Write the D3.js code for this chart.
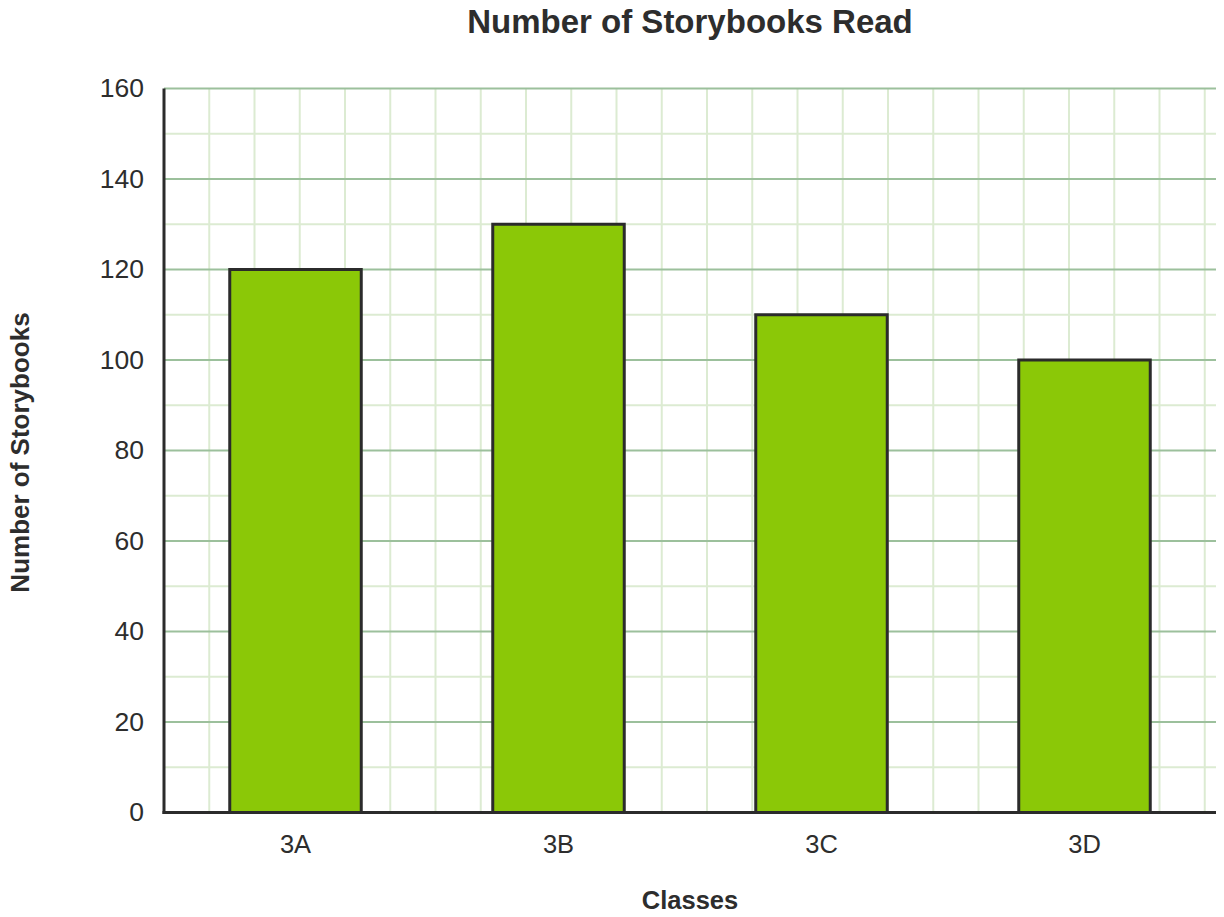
<!DOCTYPE html>
<html>
<head>
<meta charset="utf-8">
<script src="https://cdn.jsdelivr.net/npm/d3@7"></script>
<style>
  body { margin: 0; background: #fff; }
  text { font-family: "Liberation Sans", Arial, sans-serif; fill: #2d2d2d; }
</style>
</head>
<body>
<svg id="bar_chart" width="1224" height="917"></svg>
<script>
// chart data
var classes = ["3A", "3B", "3C", "3D"];
var books_read = [120, 130, 110, 100];
var y_ticks = [0, 20, 40, 60, 80, 100, 120, 140, 160];

function draw_chart(){
    var svg = d3.select("#bar_chart");
    var margin = {top: 88.5, right: 8, bottom: 104.5, left: 164},
        width = 1224 - margin.left - margin.right,
        height = 917 - margin.top - margin.bottom;

    svg.selectAll("*").remove();

    var g = svg.append("g")
        .attr("transform", "translate(" + margin.left + "," + margin.top + ")");

    var x = d3.scaleBand()
        .domain(classes)
        .range([0, width])
        .paddingInner(0.5)
        .paddingOuter(0.25);

    var y = d3.scaleLinear()
        .domain([0, 160])
        .range([height, 0]);

    // square grid: vertical lines use the same spacing as the 10-unit minor lines
    var cell = y(0) - y(10);
    var vlines = d3.range(cell, width, cell);
    g.append("g").selectAll("line")
        .data(vlines)
        .join("line")
        .attr("x1", d => d).attr("x2", d => d)
        .attr("y1", 0).attr("y2", height)
        .attr("stroke", "#dcebd2")
        .attr("stroke-width", 2);

    var minor = d3.range(10, 160, 20);
    g.append("g").selectAll("line")
        .data(minor)
        .join("line")
        .attr("x1", 0).attr("x2", width)
        .attr("y1", d => y(d)).attr("y2", d => y(d))
        .attr("stroke", "#dcebd2")
        .attr("stroke-width", 2);

    g.append("g").selectAll("line")
        .data(y_ticks.filter(d => d > 0))
        .join("line")
        .attr("x1", 0).attr("x2", width)
        .attr("y1", d => y(d)).attr("y2", d => y(d))
        .attr("stroke", "#9cc09c")
        .attr("stroke-width", 2);

    // bars
    g.append("g").selectAll("rect")
        .data(classes)
        .join("rect")
        .attr("x", d => x(d))
        .attr("width", x.bandwidth())
        .attr("y", (d, i) => y(books_read[i]))
        .attr("height", (d, i) => height - y(books_read[i]))
        .attr("fill", "#8bc807")
        .attr("stroke", "#2b2b2b")
        .attr("stroke-width", 3);

    // axes
    var y_axis = g.append("g")
        .call(d3.axisLeft(y).tickValues(y_ticks).tickSize(0).tickPadding(20));
    y_axis.select(".domain").remove();
    y_axis.selectAll("text")
        .style("font-size", "26.5px")
        .attr("fill", "#2d2d2d");

    var x_axis = g.append("g")
        .attr("transform", "translate(0," + height + ")")
        .call(d3.axisBottom(x).tickSize(0).tickPadding(22));
    x_axis.select(".domain").remove();
    x_axis.selectAll("text")
        .style("font-size", "25.5px")
        .attr("fill", "#2d2d2d");

    g.append("line")
        .attr("x1", 0).attr("x2", 0)
        .attr("y1", 0).attr("y2", height + 1.5)
        .attr("stroke", "#2b2b2b")
        .attr("stroke-width", 3);
    g.append("line")
        .attr("x1", -1.5).attr("x2", width)
        .attr("y1", height).attr("y2", height)
        .attr("stroke", "#2b2b2b")
        .attr("stroke-width", 3);

    // titles
    svg.append("text")
        .attr("x", margin.left + width / 2)
        .attr("y", 33)
        .attr("text-anchor", "middle")
        .style("font-size", "33px")
        .style("font-weight", "bold")
        .text("Number of Storybooks Read");

    svg.append("text")
        .attr("x", margin.left + width / 2)
        .attr("y", 909)
        .attr("text-anchor", "middle")
        .style("font-size", "25.5px")
        .style("font-weight", "bold")
        .text("Classes");

    svg.append("text")
        .attr("transform", "translate(29," + (margin.top + height / 2 + 2) + ")rotate(-90)")
        .attr("text-anchor", "middle")
        .style("font-size", "26px")
        .style("font-weight", "bold")
        .text("Number of Storybooks");
}

draw_chart();
</script>
</body>
</html>
